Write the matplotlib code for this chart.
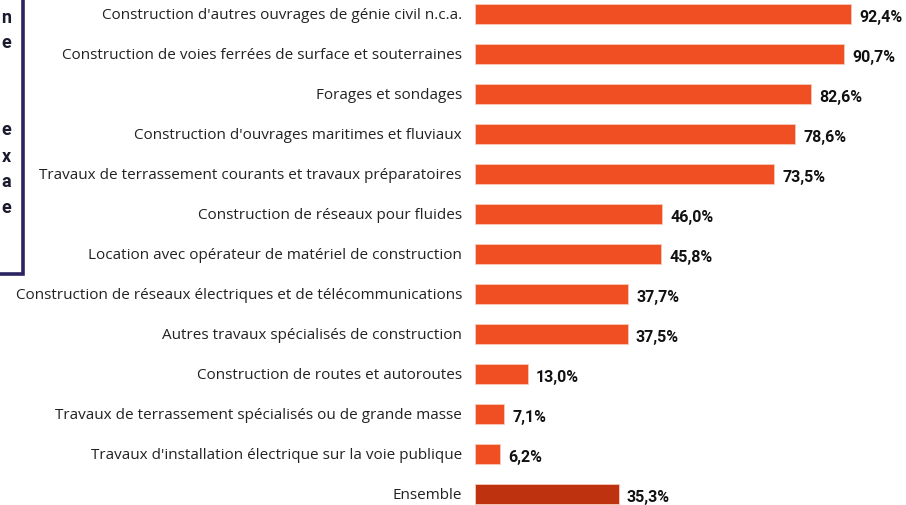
import matplotlib
matplotlib.use('Agg')
from matplotlib import pyplot as plt
from matplotlib.patches import Rectangle

# share of activity per construction sector (%)
categories = [
    "Construction d'autres ouvrages de génie civil n.c.a.",
    "Construction de voies ferrées de surface et souterraines",
    "Forages et sondages",
    "Construction d'ouvrages maritimes et fluviaux",
    "Travaux de terrassement courants et travaux préparatoires",
    "Construction de réseaux pour fluides",
    "Location avec opérateur de matériel de construction",
    "Construction de réseaux électriques et de télécommunications",
    "Autres travaux spécialisés de construction",
    "Construction de routes et autoroutes",
    "Travaux de terrassement spécialisés ou de grande masse",
    "Travaux d'installation électrique sur la voie publique",
    "Ensemble",
]
values = [92.4, 90.7, 82.6, 78.6, 73.5, 46.0, 45.8, 37.7, 37.5, 13.0, 7.1, 6.2, 35.3]
value_labels = ["92,4%", "90,7%", "82,6%", "78,6%", "73,5%", "46,0%", "45,8%",
                "37,7%", "37,5%", "13,0%", "7,1%", "6,2%", "35,3%"]

# tail ends of the text lines in the side box (cut by the figure edge)
box_letters = ["n", "e", "e", "x", "a", "e"]
box_letter_y = [18, 43, 130, 157, 182, 208]

ORANGE = '#F04E23'
DARK = '#BF3210'
NAVY = '#2B2460'

plt.rcParams['font.family'] = ['Open Sans', 'DejaVu Sans']
BOLD = ['Roboto', 'DejaVu Sans']

W, H = 906, 506
fig = plt.figure(figsize=(W / 100, H / 100), dpi=100)
ax = fig.add_axes([475 / W, 0, 407 / W, 1])

colors = [ORANGE] * (len(values) - 1) + [DARK]
pos = list(range(len(values)))
ax.barh(pos, values, height=0.48, color=colors, edgecolor='#f7c9b8', linewidth=0.6)

for i, v in enumerate(values):
    ax.text(v + 2.0, i + 0.07, value_labels[i], va='center', ha='left',
            fontsize=11.5, fontweight='bold', color='#111111', family=BOLD)
    ax.text(-3.2, i + 0.02, categories[i], va='center', ha='right',
            fontsize=11, color='#222222')

ax.set_xlim(0, 100)
ax.set_ylim((H - 15) / 40, -15 / 40)
ax.axis('off')

# side text box, mostly outside the figure on the left
fig.patches.append(Rectangle((-200 / W, 1 - 275 / H), 223 / W, 300 / H,
                             transform=fig.transFigure, fill=False,
                             edgecolor=NAVY, linewidth=2.6))
for ch, y in zip(box_letters, box_letter_y):
    fig.text(11 / W, 1 - y / H, ch, ha='right', va='center',
             fontsize=13, fontweight='bold', color='#1a1a2e', family=BOLD)

fig.savefig('out.png', dpi=100)
